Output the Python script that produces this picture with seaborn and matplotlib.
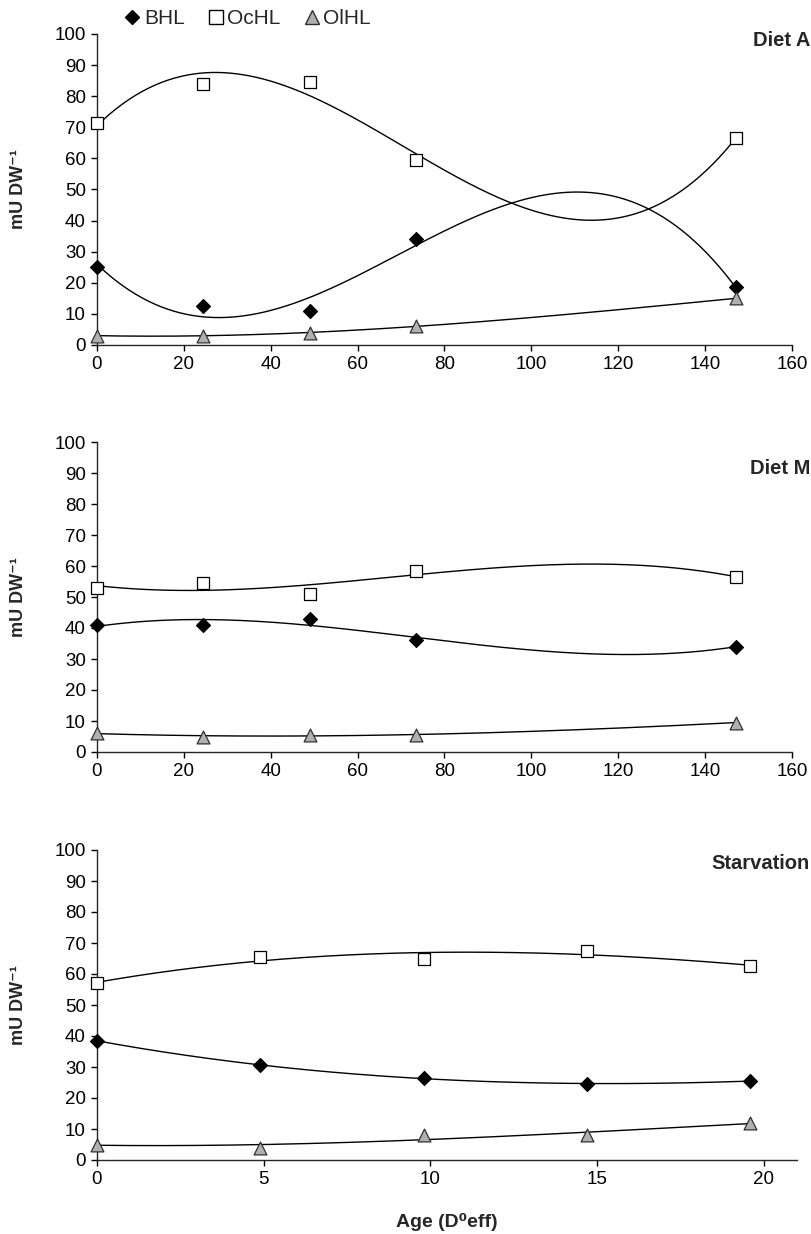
import matplotlib
matplotlib.use("Agg")
import matplotlib.pyplot as plt
import matplotlib.transforms as mtransforms
from matplotlib.lines import Line2D
import numpy as np
import pandas as pd
import seaborn as sns

# age (D0eff) sampling points
age_diet = [0, 24.5, 49, 73.5, 147]
age_starv = [0, 4.9, 9.8, 14.7, 19.6]

# Diet A
a_bhl = [25, 12.5, 11, 34, 18.5]
a_ochl = [71.5, 84, 84.5, 59.5, 66.5]
a_olhl = [3, 3, 4, 6, 15]

# Diet M
m_bhl = [41, 41, 43, 36, 34]
m_ochl = [53, 54.5, 51, 58.5, 56.5]
m_olhl = [6, 5, 5.5, 5.5, 9.5]

# Starvation
s_bhl = [38.5, 30.5, 26.5, 24.5, 25.5]
s_ochl = [57, 65.5, 65, 67.5, 62.5]
s_olhl = [5, 4, 8, 8, 12]

panels = ["Diet A", "Diet M", "Starvation"]
series = ["BHL", "OcHL", "OlHL"]

rows = []
for panel, x, vals in [("Diet A", age_diet, [a_bhl, a_ochl, a_olhl]),
                       ("Diet M", age_diet, [m_bhl, m_ochl, m_olhl]),
                       ("Starvation", age_starv, [s_bhl, s_ochl, s_olhl])]:
    for name, v in zip(series, vals):
        for xi, yi in zip(x, v):
            rows.append({"panel": panel, "series": name, "age": xi, "value": yi})
df = pd.DataFrame(rows)

sns.set_style("ticks")
plt.rcParams['font.family'] = ['Liberation Sans', 'DejaVu Sans']
plt.rcParams['axes.linewidth'] = 1.0

style = {
    "BHL": dict(marker="D", color="black", edgecolor="black", s=50),
    "OcHL": dict(marker="s", color="white", edgecolor="black", s=75),
    "OlHL": dict(marker="^", color="#b0b0b0", edgecolor="#303030", s=85),
}

fig = plt.figure(figsize=(8.12, 12.34), dpi=100)
boxes = [
    [97 / 812, 1 - 345 / 1234, 695 / 812, 311 / 1234],
    [97 / 812, 1 - 752 / 1234, 695 / 812, 310 / 1234],
    [97 / 812, 1 - 1160 / 1234, 700 / 812, 310 / 1234],
]
xlims = [(0, 160), (0, 160), (0, 21)]
xticks = [np.arange(0, 161, 20), np.arange(0, 161, 20), np.arange(0, 21, 5)]
title_y = [0.98, 0.915, 0.955]

for panel, box, xl, xt, ty in zip(panels, boxes, xlims, xticks, title_y):
    ax = fig.add_axes(box)
    sub = df[df.panel == panel]
    for name in series:
        d = sub[sub.series == name]
        # polynomial trendline (order 3) fitted to the points
        coef = np.polyfit(d.age, d.value, 3)
        xs = np.linspace(d.age.min(), d.age.max(), 300)
        fit = pd.DataFrame({"age": xs, "value": np.polyval(coef, xs)})
        sns.lineplot(data=fit, x="age", y="value", ax=ax, color="black",
                     linewidth=1.0, zorder=2)
    for name in series:
        d = sub[sub.series == name]
        sns.scatterplot(data=d, x="age", y="value", ax=ax, linewidth=0.9,
                        zorder=3, clip_on=False, **style[name])
    ax.set_xlim(*xl)
    ax.set_ylim(0, 100)
    ax.set_xticks(xt)
    ax.set_yticks(np.arange(0, 101, 10))
    ax.tick_params(labelsize=13.5, length=4, width=1, colors="black", pad=4)
    sns.despine(ax=ax)
    ax.set_xlabel("")
    ax.set_ylabel("mU DW\u207b\u00b9", fontsize=13, fontweight="bold")
    ax.yaxis.set_label_coords(-0.1, 0.5)
    trans = mtransforms.blended_transform_factory(fig.transFigure, ax.transAxes)
    ax.text(810 / 812, ty, panel, transform=trans,
            ha="right", va="center", fontsize=14.5, fontweight="bold")

fig.text(447 / 812, 1 - 1222 / 1234, "Age (D\u2070eff)", ha="center", va="center",
         fontsize=14, fontweight="bold")

handles = [
    Line2D([], [], linestyle="none", marker="D", markersize=7.5, color="black"),
    Line2D([], [], linestyle="none", marker="s", markersize=9.5,
           markerfacecolor="white", markeredgecolor="black"),
    Line2D([], [], linestyle="none", marker="^", markersize=9.5,
           markerfacecolor="#b0b0b0", markeredgecolor="#303030"),
]
fig.legend(handles, series, loc="center left", bbox_to_anchor=(124 / 812, 1 - 19 / 1234),
           ncol=3, frameon=False, fontsize=15, handlelength=0.8,
           handletextpad=0.15, columnspacing=1.1, borderpad=0, borderaxespad=0)

fig.savefig("out.png", dpi=100)
